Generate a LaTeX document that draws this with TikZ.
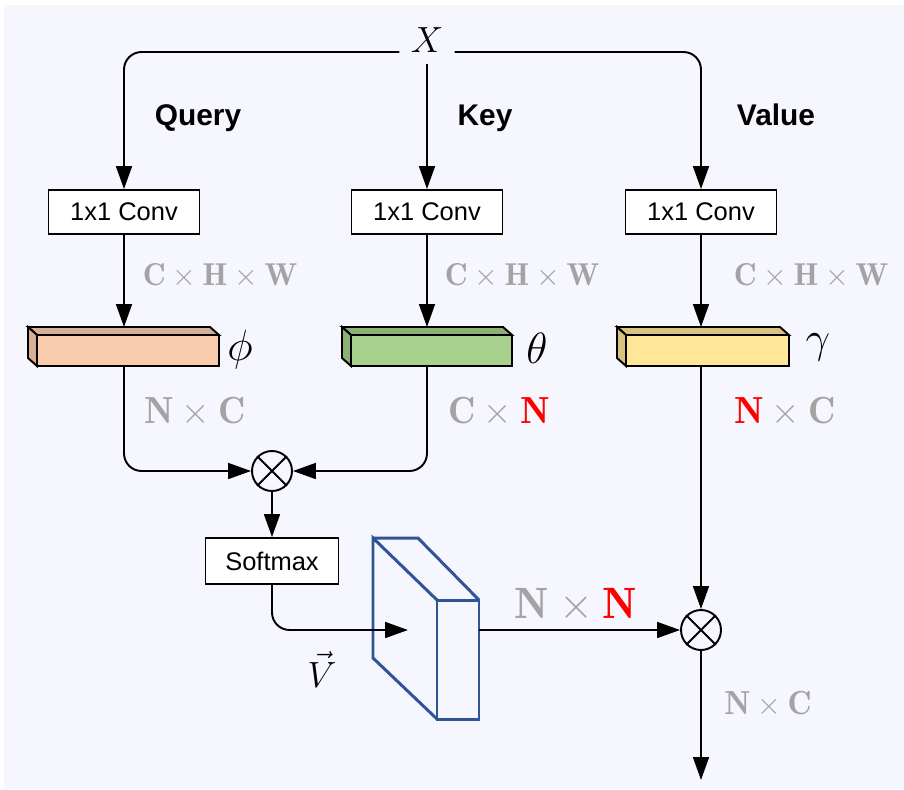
\documentclass[tikz,border=0pt]{standalone}
\usepackage{amsmath, amssymb}
\usepackage{fontspec}
\newfontfamily\helv{Liberation Sans}
\usetikzlibrary{arrows.meta}

\definecolor{bgpanel}{RGB}{245,246,254}
\definecolor{dimgray}{RGB}{163,163,163}
\definecolor{peach}{RGB}{248,203,173}
\definecolor{peachdark}{RGB}{216,175,148}
\definecolor{leaf}{RGB}{169,209,142}
\definecolor{leafdark}{RGB}{140,178,115}
\definecolor{butter}{RGB}{255,230,153}
\definecolor{butterdark}{RGB}{217,194,125}
\definecolor{navy}{RGB}{47,85,151}

\begin{document}
\begin{tikzpicture}[x=0.02cm, y=-0.02cm, line width=1.1pt,
    arr/.style={-{Triangle[length=13pt,width=9pt]}},
    conv/.style={draw, fill=white, minimum width=3.02cm, minimum height=0.88cm, inner sep=0pt, font=\helv\fontsize{14.5}{16}\selectfont},
    head/.style={anchor=base, font=\helv\bfseries\fontsize{17}{18}\selectfont},
    dims/.style={anchor=base, text=dimgray},
    mul/.style={draw, circle, minimum size=0.8cm, inner sep=0pt}]

    % panel
    \fill[white] (0,0) rectangle (904,789);
    \fill[bgpanel] (4,5) rectangle (904,789);
    \useasboundingbox (0,0) rectangle (904,789);

    \node[anchor=base, inner sep=6pt, font=\fontsize{22}{24}\selectfont] (x) at (427,52) {$X$};

    \node[head] (qname) at (198,125) {Query};
    \node[head] (kname) at (485,125) {Key};
    \node[head] (vname) at (776,125) {Value};

    \node[conv] (convq) at (124,212) {1x1 Conv};
    \node[conv] (convk) at (427,212) {1x1 Conv};
    \node[conv] (convv) at (701,212) {1x1 Conv};

    % phi
    \filldraw[fill=peachdark] (37,335) -- (28,327) -- (210,327) -- (219,335) -- cycle;
    \filldraw[fill=peachdark] (37,335) -- (28,327) -- (28,358) -- (37,366) -- cycle;
    \filldraw[fill=peach] (37,335) rectangle (219,366);
    % theta
    \filldraw[fill=leafdark] (351,335) -- (342,327) -- (503,327) -- (512,335) -- cycle;
    \filldraw[fill=leafdark] (351,335) -- (342,327) -- (342,358) -- (351,366) -- cycle;
    \filldraw[fill=leaf] (351,335) rectangle (512,366);
    % gamma
    \filldraw[fill=butterdark] (626,335) -- (617,327) -- (780,327) -- (789,335) -- cycle;
    \filldraw[fill=butterdark] (626,335) -- (617,327) -- (617,358) -- (626,366) -- cycle;
    \filldraw[fill=butter] (626,335) rectangle (789,366);

    \coordinate (qtop) at (124,327);
    \coordinate (qbot) at (124,366);
    \coordinate (ktop) at (427,327);
    \coordinate (kbot) at (427,366);
    \coordinate (vtop) at (701,327);
    \coordinate (vbot) at (701,366);

    \node[anchor=base, font=\fontsize{24}{26}\selectfont] (phi) at (240,360) {$\phi$};
    \node[anchor=base, font=\fontsize{24}{26}\selectfont] (theta) at (537,363) {$\theta$};
    \node[anchor=base, font=\fontsize{24}{26}\selectfont] (gamma) at (818,352) {$\gamma$};

    \node[mul] (mulqk) at (272,471) {};
    \draw (mulqk.north west) -- (mulqk.south east) (mulqk.north east) -- (mulqk.south west);
    \node[conv, minimum width=2.66cm, minimum height=0.92cm] (soft) at (272,561) {Softmax};

    % attention map V
    \draw[navy, line width=1.7pt] (437,600) -- (373,538) -- (373,658) -- (437,719);
    \draw[navy, line width=1.7pt] (373,538) -- (418,538) -- (479,600);
    \draw[navy, line width=1.7pt] (437,600) rectangle (479,719);
    \coordinate (vin) at (408,630);
    \coordinate (vout) at (479,630);
    \node[anchor=base, font=\fontsize{22}{24}\selectfont] (vlabel) at (322,687) {$\vec{V}$};

    \node[mul] (mulv) at (701,630) {};
    \draw (mulv.north west) -- (mulv.south east) (mulv.north east) -- (mulv.south west);
    \coordinate (outend) at (701,780);

    % connectors
    \draw[arr, rounded corners=10] (x.base west) -| (convq.north);
    \draw[arr, rounded corners=10] (x.base east) -| (convv.north);
    \draw[arr] (x.south) -- (convk.north);
    \draw[arr] (convq.south) -- (qtop);
    \draw[arr] (convk.south) -- (ktop);
    \draw[arr] (convv.south) -- (vtop);
    \draw[arr, rounded corners=10] (qbot) |- (mulqk.west);
    \draw[arr, rounded corners=10] (kbot) |- (mulqk.east);
    \draw[arr] (mulqk.south) -- (soft.north);
    \draw[arr, rounded corners=10] (soft.south) |- (vin);
    \draw[arr] (vout) -- (mulv.west);
    \draw[arr] (vbot) -- (mulv.north);
    \draw[arr] (mulv.south) -- (outend);

    % shapes
    \node[dims, font=\fontsize{18}{19}\selectfont] (dimq) at (220,285) {$\mathbf{C}\times\mathbf{H}\times\mathbf{W}$};
    \node[dims, font=\fontsize{18}{19}\selectfont] (dimk) at (522,285) {$\mathbf{C}\times\mathbf{H}\times\mathbf{W}$};
    \node[dims, font=\fontsize{18}{19}\selectfont] (dimv) at (811,285) {$\mathbf{C}\times\mathbf{H}\times\mathbf{W}$};
    \node[dims, font=\fontsize{21.5}{23}\selectfont] (nq) at (195,423) {$\mathbf{N}\times\mathbf{C}$};
    \node[dims, font=\fontsize{21.5}{23}\selectfont] (nk) at (499,423) {$\mathbf{C}\times{\color{red}\mathbf{N}}$};
    \node[dims, font=\fontsize{21.5}{23}\selectfont] (nv) at (785,423) {${\color{red}\mathbf{N}}\times\mathbf{C}$};
    \node[dims, font=\fontsize{25}{26}\selectfont] (nn) at (576,618) {$\mathbf{N}\times{\color{red}\mathbf{N}}$};
    \node[dims, font=\fontsize{19}{20}\selectfont] (nout) at (768,714) {$\mathbf{N}\times\mathbf{C}$};

\end{tikzpicture}
\end{document}
